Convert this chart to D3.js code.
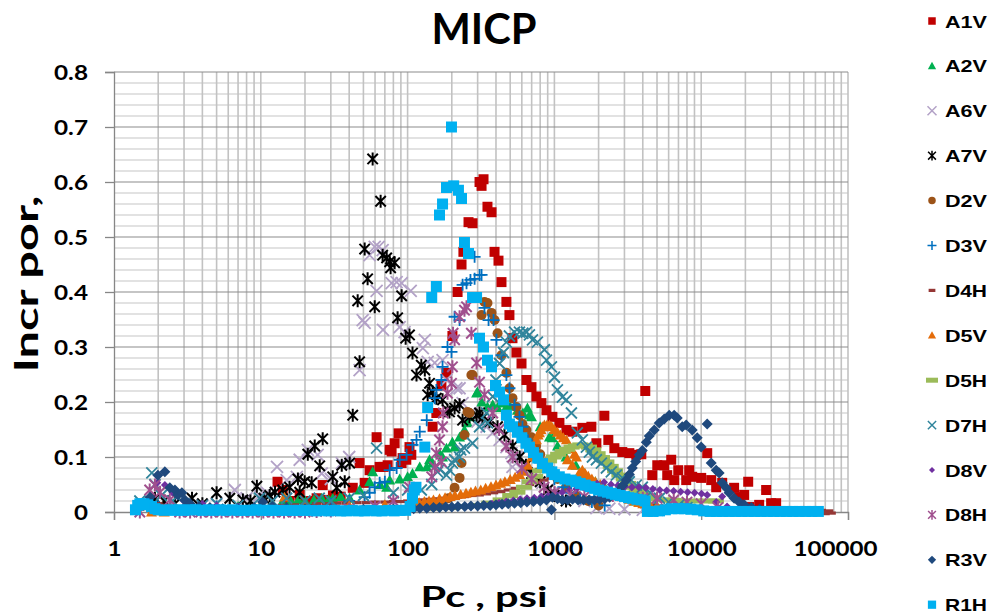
<!DOCTYPE html>
<html>
<head>
<meta charset="utf-8">
<script src="https://cdn.jsdelivr.net/npm/d3@7"></script>
<style>
  body { margin: 0; background: #fff; }
  text { font-weight: bold; fill: #000; }
</style>
</head>
<body>
<script>
// MICP incremental porosity vs capillary pressure, one array per sample: [Pc psi, incr por]
var pcTicks = [1, 10, 100, 1000, 10000, 100000];
var porTicks = [0, 0.1, 0.2, 0.3, 0.4, 0.5, 0.6, 0.7, 0.8];
var sampleNames = ['A1V', 'A2V', 'A6V', 'A7V', 'D2V', 'D3V', 'D4H', 'D5V', 'D5H', 'D7H', 'D8V', 'D8H', 'R3V', 'R1H'];

var a1v = [[13,0.055],[14.1,0.04],[15.7,0.02],[18.4,0.031],[20,0.018],[22,0.02],[24,0.025],[26.4,0.049],[28,0.022],[31,0.03],[35,0.028],
  [42.3,0.044],[47.1,0.089],[51,0.053],[55.1,0.076],[61.5,0.136],[64.5,0.082],[68.7,0.082],[73.1,0.085],[75.5,0.113],[77.8,0.11],
  [81.6,0.125],[86.9,0.143],[91,0.089],[92.5,0.098],[98,0.095],[103,0.118],[106,0.104],[148,0.155],[157,0.18],[170,0.23],[184,0.253],
  [202,0.32],[219,0.40],[233,0.45],[240,0.473],[260,0.527],[277,0.525],[309,0.60],[319,0.593],[329,0.605],[350,0.555],[373,0.545],
  [391,0.473],[416,0.457],[436,0.418],[471,0.382],[494,0.358],[518,0.316],[551,0.29],[597,0.27],[645,0.24],[698,0.227],[755,0.21],
  [816,0.198],[883,0.185],[969,0.173],[1082,0.162],[1207,0.149],[1326,0.146],[1550,0.153],[1786,0.155],[1932,0.125],[2189,0.175],
  [2330,0.131],[2561,0.116],[2902,0.109],[3238,0.107],[3612,0.104],[3908,0.105],[4159,0.22],[4641,0.067],[5021,0.085],[5600,0.085],
  [5870,0.067],[6249,0.095],[6549,0.058],[6978,0.076],[7905,0.058],[8283,0.076],[8686,0.064],[10000,0.062],[10990,0.107],[11700,0.058],
  [12650,0.045],[13900,0.053],[16760,0.044],[18130,0.027],[19620,0.031],[20900,0.055],[21230,0.009],[24830,0.013],[27700,0.04],
  [29950,0.016],[32400,0.016]];

var a2v = [[5,0.008],[7,0.01],[10,0.012],[12,0.015],[14,0.018],[16,0.02],[18,0.022],[20,0.02],[23,0.022],[26,0.025],[29,0.022],
  [30.9,0.025],[35,0.028],[40.3,0.025],[47.1,0.04],[55.1,0.055],[57.8,0.073],[65,0.05],[72,0.045],[75.5,0.058],[88.3,0.06],[100,0.064],
  [108,0.07],[121,0.082],[135,0.082],[141,0.095],[148,0.089],[165,0.107],[173,0.1],[184,0.116],[202,0.127],[209,0.118],[226,0.136],
  [244,0.149],[256,0.162],[272,0.173],[295,0.216],[299,0.218],[320,0.2],[350,0.191],[380,0.195],[410,0.19],[436,0.198],[471,0.191],
  [500,0.192],[560,0.185],[610,0.18],[655,0.189],[676,0.176],[698,0.173],[800,0.155],[925,0.136],[969,0.135],[1050,0.12],[1200,0.1],
  [1400,0.085],[1600,0.07],[1900,0.055],[2200,0.045],[2600,0.035],[3000,0.028],[3500,0.02],[4200,0.015],[5000,0.01]];

var a6v = [[1.9,0.02],[2.5,0.018],[3,0.015],[4,0.012],[5,0.015],[6.65,0.04],[8,0.025],[9.8,0.03],[11,0.035],[12.9,0.082],[15,0.058],
  [17.6,0.064],[18.4,0.095],[20.9,0.113],[24.4,0.104],[26,0.07],[30,0.06],[35.6,0.089],[40,0.1],[47.1,0.258],[49.4,0.349],[51,0.344],
  [55.1,0.467],[59.7,0.482],[61.5,0.402],[63.5,0.482],[67.6,0.476],[68,0.331],[77.8,0.416],[84.2,0.418],[88.3,0.336],[91.1,0.416],
  [95.4,0.327],[105,0.402],[127,0.298],[131,0.313],[137,0.273],[153,0.271],[173,0.276],[184,0.24],[215,0.225],[226,0.225],[237,0.198],
  [270,0.18],[300,0.165],[345,0.155],[379,0.144],[423,0.131],[471,0.118],[510,0.107],[518,0.082],[551,0.1],[606,0.076],[709,0.064],
  [828,0.053],[925,0.044],[1100,0.035],[1300,0.028],[1600,0.02],[1932,0.007],[2366,0.006],[3000,0.005],[4000,0.004],[5000,0.004]];

var a7v = [[1.9,0.025],[2.2,0.02],[2.6,0.015],[3.4,0.025],[4,0.015],[5,0.035],[6.15,0.025],[7.55,0.022],[8.5,0.02],[9.4,0.047],
  [10.5,0.025],[11.5,0.03],[12.5,0.036],[14.1,0.04],[15.7,0.045],[17.9,0.06],[18.4,0.036],[19.9,0.055],[20.9,0.105],[22.2,0.053],
  [23.3,0.12],[25.2,0.084],[26.4,0.133],[30.9,0.064],[32.9,0.044],[35.6,0.085],[37.3,0.055],[40.3,0.089],[42.3,0.176],[45.7,0.384],
  [47.1,0.273],[51,0.478],[53.4,0.424],[57.8,0.642],[59.7,0.373],[65.5,0.565],[67.6,0.467],[72,0.462],[75.5,0.455],[76.6,0.444],
  [81.6,0.453],[85.5,0.353],[91.1,0.393],[97,0.316],[103,0.322],[108,0.289],[115,0.249],[124,0.267],[131,0.258],[137,0.213],
  [141,0.234],[148,0.218],[157,0.207],[173,0.204],[187,0.185],[193,0.182],[209,0.189],[226,0.195],[237,0.167],[264,0.173],[295,0.176],
  [309,0.18],[324,0.171],[361,0.164],[410,0.155],[457,0.14],[520,0.12],[580,0.1],[640,0.085],[700,0.07],[800,0.055],[900,0.04],
  [1000,0.03],[1200,0.02]];

var d2v = [[150,0.01],[170,0.015],[190,0.025],[209,0.044],[226,0.062],[233,0.089],[244,0.14],[256,0.182],[264,0.18],[272,0.249],
  [277,0.249],[319,0.358],[334,0.382],[350,0.38],[373,0.362],[391,0.349],[410,0.325],[436,0.285],[471,0.253],[494,0.225],[518,0.207],
  [551,0.191],[578,0.176],[606,0.16],[645,0.149],[698,0.136],[750,0.12],[800,0.105],[870,0.09],[950,0.075],[1050,0.06],[1200,0.045],
  [1400,0.03],[1700,0.02],[2000,0.012]];

var d3v = [[2,0.01],[3,0.008],[5,0.01],[10,0.01],[20,0.012],[30,0.015],[40,0.02],[51,0.027],[55.1,0.035],[59.7,0.045],[64.5,0.053],
  [70,0.055],[75.5,0.076],[84.2,0.08],[88.3,0.095],[98.4,0.104],[108,0.122],[115,0.131],[121,0.146],[135,0.167],[153,0.207],[157,0.222],
  [170,0.24],[173,0.264],[187,0.3],[199,0.291],[209,0.355],[226,0.349],[237,0.413],[252,0.416],[268,0.422],[286,0.424],[286,0.464],
  [309,0.431],[319,0.431],[334,0.371],[356,0.349],[385,0.349],[403,0.313],[436,0.285],[471,0.249],[494,0.225],[535,0.195],[578,0.173],
  [606,0.155],[660,0.13],[720,0.11],[800,0.09],[900,0.075],[1000,0.06],[1150,0.045],[1300,0.035],[1500,0.025],[1800,0.018],[2200,0.012]];

var d4h = [[1.5,0.005],[1.7,0.01],[2,0.015],[2.3,0.012],[2.6,0.01],[3,0.008],[3.5,0.006],[4,0.006],[5,0.007],[6,0.008],[7,0.008],
  [8.5,0.009],[10,0.01],[12,0.011],[14,0.012],[17,0.013],[20,0.014],[24,0.015],[28,0.015],[33,0.016],[38,0.016],[45,0.017],[52,0.017],
  [60,0.018],[70,0.018],[80,0.019],[90,0.019],[100,0.02],[112,0.021],[125,0.022],[140,0.023],[157,0.024],[175,0.025],[196,0.026],
  [220,0.027],[245,0.028],[275,0.03],[308,0.031],[345,0.033],[386,0.035],[432,0.037],[484,0.04],[542,0.043],[607,0.046],[680,0.05],
  [760,0.054],[850,0.058],[950,0.062],[1060,0.065],[1190,0.062],[1330,0.058],[1490,0.052],[1670,0.047],[1870,0.042],[2090,0.037],
  [2340,0.033],[2620,0.029],[2930,0.025],[3280,0.021],[3670,0.018],[4110,0.015],[4600,0.013],[5150,0.011],[5770,0.01],[6460,0.009],
  [7230,0.008],[8100,0.007],[10000,0.006],[13000,0.005],[17000,0.004],[22000,0.003],[30000,0.003],[40000,0.002],[55000,0.002],
  [66000,0.003],[70000,-0.003],[74000,0.002],[77000,-0.002]];

var d5v = [[1.8,0],[2,0.002],[2.2,0],[3,0.003],[5,0.003],[10,0.005],[14.5,0.027],[20,0.01],[40,0.012],[70,0.013],[100,0.012],
  [110,0.015],[120,0.017],[130,0.019],[140,0.02],[150,0.022],[165,0.024],[180,0.026],[195,0.028],[210,0.03],[230,0.032],[250,0.034],
  [270,0.036],[290,0.038],[315,0.04],[340,0.043],[370,0.046],[400,0.049],[430,0.052],[460,0.055],[500,0.059],[540,0.063],[580,0.068],
  [620,0.074],[660,0.085],[700,0.1],[730,0.115],[755,0.131],[775,0.14],[791,0.144],[810,0.15],[828,0.155],[855,0.158],[890,0.158],
  [925,0.158],[960,0.155],[1000,0.15],[1050,0.145],[1100,0.14],[1150,0.135],[1207,0.131],[1226,0.095],[1260,0.115],[1326,0.085],
  [1370,0.105],[1412,0.1],[1479,0.071],[1550,0.076],[1620,0.07],[1700,0.065],[1800,0.06],[1900,0.055],[2050,0.05],[2200,0.045],
  [2400,0.04],[2600,0.035],[2800,0.031],[3000,0.027],[3250,0.023],[3500,0.02],[3750,0.017],[4000,0.015],[4500,0.012],[5000,0.01]];

var d5h = [[2,0.005],[5,0.005],[20,0.005],[60,0.006],[100,0.006],[150,0.007],[200,0.008],[250,0.01],[300,0.012],[360,0.016],
  [430,0.022],[500,0.03],[560,0.036],[620,0.045],[680,0.055],[740,0.065],[800,0.075],[860,0.085],[920,0.093],[990,0.1],[1060,0.105],
  [1140,0.11],[1220,0.114],[1310,0.118],[1400,0.12],[1500,0.122],[1610,0.121],[1720,0.118],[1840,0.113],[1970,0.106],[2110,0.099],
  [2260,0.091],[2420,0.083],[2590,0.075],[2770,0.067],[2970,0.06],[3180,0.052],[3400,0.045],[3640,0.039],[3900,0.033],[4300,0.028],
  [4800,0.024],[5500,0.022],[6500,0.021],[7500,0.02],[9000,0.02],[11000,0.02],[12600,0.02]];

var d7h = [[1.5,0.02],[1.81,0.071],[1.9,0.05],[2.1,0.03],[2.5,0.02],[3,0.015],[4,0.012],[5,0.015],[7,0.012],[9.8,0.025],[12,0.02],
  [15,0.025],[20,0.02],[25,0.025],[30,0.02],[40,0.025],[50,0.03],[61.5,0.116],[80,0.035],[100,0.04],[124,0.04],[146,0.05],[160,0.073],
  [165,0.078],[184,0.067],[193,0.076],[202,0.089],[209,0.095],[226,0.1],[230,0.113],[244,0.116],[277,0.125],[309,0.155],[345,0.18],
  [350,0.162],[380,0.21],[400,0.24],[423,0.27],[450,0.29],[471,0.309],[494,0.32],[535,0.327],[578,0.327],[610,0.325],[645,0.327],
  [676,0.322],[709,0.313],[766,0.309],[855,0.295],[883,0.276],[955,0.264],[1000,0.245],[1048,0.222],[1133,0.209],[1207,0.204],
  [1306,0.18],[1433,0.144],[1550,0.131],[1651,0.118],[1730,0.109],[1815,0.1],[1932,0.095],[2089,0.089],[2259,0.08],[2441,0.073],
  [2642,0.067],[2902,0.062],[3238,0.055],[3612,0.049],[3970,0.045],[4500,0.035],[5200,0.025],[6000,0.018],[7000,0.012],[8000,0.008]];

var d8v = [[1.97,0.053],[2.22,0.049],[2.5,0.035],[3,0.02],[4,0.015],[5,0.012],[7,0.01],[10,0.008],[15,0.006],[25,0.005],[50,0.005],
  [100,0.006],[150,0.007],[200,0.008],[250,0.01],[300,0.012],[335,0.013],[375,0.015],[420,0.017],[470,0.019],[525,0.021],[585,0.023],
  [650,0.025],[730,0.026],[815,0.028],[910,0.03],[1015,0.033],[1130,0.036],[1260,0.039],[1410,0.042],[1570,0.045],[1750,0.048],
  [1950,0.052],[2180,0.054],[2430,0.05],[2710,0.048],[3020,0.046],[3370,0.045],[3760,0.045],[4200,0.044],[4680,0.042],[5220,0.04],
  [5820,0.039],[6490,0.038],[7240,0.037],[8080,0.036],[9010,0.035],[10050,0.033],[10990,0.031],[12650,0.018],[13900,0.028],
  [15000,0.01],[20000,0.005],[30000,0.003]];

var d8h = [[1.5,0],[1.75,0.04],[1.9,0.049],[2.06,0.036],[2.4,0.022],[2.8,0],[3.3,0],[3.9,0],[4.6,0],[5.4,0],[6.4,0],[7.5,0],[8.8,0],
  [10.4,0],[12.2,0],[14.4,0],[17,0],[20,0],[24,0.001],[30,0.002],[40,0.005],[60,0.01],[80,0.02],[103,0.045],[146,0.064],[153,0.082],
  [157,0.107],[165,0.131],[170,0.091],[173,0.155],[175,0.18],[187,0.216],[199,0.234],[202,0.264],[204,0.325],[209,0.313],[226,0.355],
  [244,0.367],[252,0.373],[272,0.325],[295,0.271],[309,0.236],[334,0.213],[380,0.18],[420,0.15],[470,0.12],[520,0.1],[600,0.08],
  [700,0.06],[850,0.045],[1000,0.035],[1300,0.03],[1600,0.028],[2000,0.03],[2500,0.03],[3000,0.028],[4000,0.025],[5000,0.025],
  [6500,0.022],[8000,0.018],[10000,0.015],[13000,0.008]];

var r3v = [[1.76,0.027],[1.99,0.067],[2.22,0.073],[2.4,0.044],[2.6,0.04],[2.72,0.031],[2.9,0.035],[3.04,0.022],[3.3,0.015],[3.8,0.01],
  [4.5,0.008],[5.5,0.006],[7,0.006],[9,0.008],[10.3,0.018],[12,0.01],[15,0.008],[20,0.006],[30,0.005],[50,0.005],[80,0.005],[100,0.005],
  [110,0.006],[121,0.007],[135,0.007],[150,0.008],[165,0.008],[182,0.009],[200,0.009],[220,0.01],[245,0.01],[270,0.011],[300,0.011],
  [330,0.012],[365,0.012],[400,0.013],[440,0.014],[485,0.015],[535,0.016],[590,0.017],[650,0.018],[720,0.019],[800,0.02],[883,0.022],
  [955,0.004],[969,0.027],[1050,0.024],[1133,0.022],[1230,0.022],[1330,0.023],[1450,0.022],[1580,0.022],[1720,0.022],[1870,0.022],
  [2030,0.023],[2200,0.024],[2380,0.027],[2570,0.032],[2768,0.04],[2920,0.048],[3090,0.058],[3240,0.068],[3394,0.08],[3580,0.092],
  [3784,0.104],[3970,0.112],[4226,0.127],[4428,0.138],[4788,0.149],[5178,0.162],[5600,0.169],[6056,0.176],[6549,0.176],[6866,0.171],
  [7427,0.155],[7905,0.158],[8686,0.149],[9395,0.135],[10000,0.118],[10990,0.16],[11700,0.089],[12650,0.076],[13250,0.071],
  [13900,0.053],[14800,0.044],[15500,0.035],[16760,0.025],[18130,0.018],[19620,0.013],[22000,0.008],[25000,0.005]];

var r1h = [[1.4,0.004],[1.45,0.012],[1.5,0.015],[1.6,0.015],[1.7,0.013],[1.8,0.01],[1.9,0.006],[2,0.004],[2.2,0.003],[2.4,0.004],
  [2.6,0.003],[2.8,0.004],[3,0.003],[3.3,0.004],[3.6,0.004],[4,0.003],[4.4,0.004],[4.8,0.003],[5.3,0.004],[5.8,0.003],[6.4,0.004],
  [7,0.003],[7.7,0.003],[8.5,0.003],[9.3,0.004],[10.2,0.003],[11.2,0.003],[12.3,0.003],[13.5,0.003],[15,0.003],[16.5,0.003],[18,0.003],
  [20,0.003],[22,0.003],[24,0.002],[26.5,0.003],[29,0.002],[32,0.003],[35,0.002],[38.5,0.002],[42,0.003],[46,0.002],[51,0.002],
  [56,0.003],[61,0.002],[67,0.002],[74,0.003],[81,0.002],[89,0.003],[97,0.003],[104,0.01],[108,0.025],[111,0.04],[114,0.045],
  [131,0.118],[137,0.19],[146,0.39],[157,0.41],[165,0.54],[173,0.56],[184,0.59],[199,0.70],[206,0.593],[222,0.585],[233,0.57],
  [244,0.49],[260,0.47],[277,0.39],[295,0.39],[309,0.316],[329,0.30],[350,0.276],[373,0.264],[397,0.23],[423,0.218],[450,0.204],
  [471,0.176],[494,0.16],[518,0.155],[560,0.145],[600,0.135],[640,0.125],[676,0.118],[720,0.108],[770,0.098],[830,0.088],[900,0.08],
  [960,0.073],[1000,0.068],[1080,0.064],[1180,0.06],[1300,0.058],[1400,0.055],[1500,0.052],[1620,0.049],[1750,0.046],[1880,0.043],
  [2000,0.04],[2150,0.038],[2300,0.036],[2450,0.034],[2600,0.032],[2800,0.03],[3000,0.028],[3200,0.026],[3400,0.025],[3650,0.023],
  [3900,0.022],[4150,0.02],[4300,0.001],[4700,0.001],[5200,0.002],[5700,0.004],[6300,0.006],[7000,0.006],[7700,0.006],[8500,0.005],
  [9400,0.004],[10400,0.002],[11500,0.001],[12700,0.001],[14000,0.001],[15500,0.001],[17100,0.001],[18900,0.001],[20900,0.001],
  [23100,0.001],[25500,0.001],[28200,0.001],[31200,0.001],[34500,0.001],[38100,0.001],[42100,0.001],[46500,0.001],[51400,0.001],
  [56800,0.001],[62800,0.001]];

var sampleData = [a1v, a2v, a6v, a7v, d2v, d3v, d4h, d5v, d5h, d7h, d8v, d8h, r3v, r1h];

// marker look per sample, same order as sampleNames
var markerKind = ['square', 'triangle', 'x', 'star', 'circle', 'plus', 'dash', 'triangle', 'bar', 'x', 'diamond', 'star', 'diamond', 'square'];
var markerSize = [10, 11, 12, 13, 10, 12, 9, 11, 16, 11, 8, 13, 11, 11];
var markerColor = ['#C00000', '#00B050', '#B3A2C7', '#000000', '#9C5318', '#0070C0', '#953735', '#E46C0A', '#9BBB59', '#31859C',
  '#7030A0', '#A0508E', '#1F497D', '#00B0F0'];

var width = 1000, height = 616;

var svg = d3.select('body').append('svg')
  .attr('width', width)
  .attr('height', height);

var x = d3.scaleLog().domain([1, 100000]).range([114, 848]);
var y = d3.scaleLinear().domain([0, 0.8]).range([512, 72]);

// grid
var grid = svg.append('g');
var minorY = d3.range(1, 40).map(function(i) { return i * 0.02; }).filter(function(v, i) { return (i + 1) % 5 != 0; });
grid.selectAll('.hminor').data(minorY).enter().append('line')
  .attr('x1', 114).attr('x2', 848)
  .attr('y1', function(d) { return y(d); }).attr('y2', function(d) { return y(d); })
  .style('stroke', '#c6c6c6').style('stroke-width', 1.2);

var minorX = [];
[1, 10, 100, 1000, 10000].forEach(function(dec) {
  for (var k = 2; k <= 10; k++) { minorX.push(dec * k); }
});
grid.selectAll('.vline').data(minorX).enter().append('line')
  .attr('x1', function(d) { return x(d); }).attr('x2', function(d) { return x(d); })
  .attr('y1', 72).attr('y2', 512)
  .style('stroke', '#c2c2c2').style('stroke-width', 1.6);

grid.selectAll('.hmajor').data(porTicks.slice(1)).enter().append('line')
  .attr('x1', 114).attr('x2', 848)
  .attr('y1', function(d) { return y(d); }).attr('y2', function(d) { return y(d); })
  .style('stroke', '#8c8c8c').style('stroke-width', 1.2);

// axes
function labelWidth(s) {
  var w = 0;
  for (var i = 0; i < s.length; i++) { w += s[i] == '.' ? 6 : 14; }
  return w;
}

var yAxis = svg.append('g')
  .attr('transform', 'translate(114,0)')
  .call(d3.axisLeft(y).tickValues(porTicks).tickSize(9).tickFormat(function(d) { return d == 0 ? '0' : d.toFixed(1); }));
var xAxis = svg.append('g')
  .attr('transform', 'translate(0,512)')
  .call(d3.axisBottom(x).tickValues(pcTicks).tickSize(8).tickFormat(d3.format('d')));

[yAxis, xAxis].forEach(function(ax) {
  ax.select('.domain').style('stroke', '#868686').style('stroke-width', 1.3);
  ax.selectAll('.tick line').style('stroke', '#868686').style('stroke-width', 1.3);
  ax.selectAll('.tick text')
    .style('font-family', 'Lato, "Open Sans", sans-serif')
    .style('font-size', '21px')
    .style('font-weight', 'bold')
    .style('fill', '#000')
    .attr('lengthAdjust', 'spacingAndGlyphs')
    .attr('textLength', function() { return labelWidth(this.textContent); });
});
yAxis.selectAll('.tick text').attr('x', -26).attr('dy', '0.36em');
xAxis.selectAll('.tick text').attr('y', 29).attr('dy', '0.71em')
  .attr('x', function(d) { return d == 100000 ? -13 : 0; });

// markers
function markerPath(kind, s) {
  var a = s / 2;
  if (kind == 'square') return 'M' + (-a) + ',' + (-a) + 'h' + s + 'v' + s + 'h' + (-s) + 'Z';
  if (kind == 'triangle') return 'M0,' + (-a) + 'L' + a + ',' + (a * 0.8) + 'L' + (-a) + ',' + (a * 0.8) + 'Z';
  if (kind == 'diamond') return 'M0,' + (-a) + 'L' + a + ',0L0,' + a + 'L' + (-a) + ',0Z';
  if (kind == 'circle') return 'M' + (-a) + ',0a' + a + ',' + a + ' 0 1,0 ' + s + ',0a' + a + ',' + a + ' 0 1,0 ' + (-s) + ',0Z';
  if (kind == 'dash') return 'M' + (-a) + ',-1.6h' + s + 'v3.2h' + (-s) + 'Z';
  if (kind == 'bar') return 'M' + (-a) + ',-2.5h' + s + 'v5h' + (-s) + 'Z';
  if (kind == 'plus') return 'M' + (-a) + ',0H' + a + 'M0,' + (-a) + 'V' + a;
  if (kind == 'x') return 'M' + (-a) + ',' + (-a) + 'L' + a + ',' + a + 'M' + a + ',' + (-a) + 'L' + (-a) + ',' + a;
  // star: x plus a vertical stroke
  var b = a * 0.8;
  return 'M' + (-b) + ',' + (-b) + 'L' + b + ',' + b + 'M' + b + ',' + (-b) + 'L' + (-b) + ',' + b + 'M0,' + (-a) + 'V' + a;
}

function isLine(kind) { return kind == 'plus' || kind == 'x' || kind == 'star'; }

var plot = svg.append('g');
sampleNames.forEach(function(name, i) {
  var kind = markerKind[i];
  plot.append('g')
    .attr('class', 'series-' + name)
    .selectAll('path')
    .data(sampleData[i])
    .enter()
    .append('path')
    .attr('transform', function(d) { return 'translate(' + x(d[0]) + ',' + y(d[1]) + ')'; })
    .attr('d', markerPath(kind, markerSize[i]))
    .style('fill', isLine(kind) ? 'none' : markerColor[i])
    .style('stroke', isLine(kind) ? markerColor[i] : 'none')
    .style('stroke-width', kind == 'star' ? 2 : (isLine(kind) ? 1.8 : 0));
});

// legend
var legend = svg.append('g').selectAll('g')
  .data(sampleNames)
  .enter()
  .append('g')
  .attr('transform', function(d, i) { return 'translate(932,' + (21 + i * 44.9) + ')'; });

legend.append('path')
  .attr('d', function(d, i) { return markerPath(markerKind[i], markerSize[i] * 0.75); })
  .style('fill', function(d, i) { return isLine(markerKind[i]) ? 'none' : markerColor[i]; })
  .style('stroke', function(d, i) { return isLine(markerKind[i]) ? markerColor[i] : 'none'; })
  .style('stroke-width', 1.5);

legend.append('text')
  .attr('x', 13)
  .attr('y', 6.5)
  .attr('textLength', 42)
  .attr('lengthAdjust', 'spacingAndGlyphs')
  .style('font-family', '"Liberation Sans", Arial, sans-serif')
  .style('font-size', '17px')
  .text(function(d) { return d; });

// titles
svg.append('text')
  .attr('x', 484).attr('y', 44)
  .attr('text-anchor', 'middle')
  .attr('textLength', 105).attr('lengthAdjust', 'spacingAndGlyphs')
  .style('font-family', 'Lato, sans-serif').style('font-size', '42px')
  .text('MICP');

svg.append('text')
  .attr('x', 484).attr('y', 607)
  .attr('text-anchor', 'middle')
  .attr('textLength', 127).attr('lengthAdjust', 'spacingAndGlyphs')
  .style('font-family', 'Lato, sans-serif').style('font-size', '28px')
  .text('Pc , psi');

svg.append('text')
  .attr('transform', 'translate(38,284) rotate(-90)')
  .attr('text-anchor', 'middle')
  .attr('textLength', 177).attr('lengthAdjust', 'spacingAndGlyphs')
  .style('font-family', 'Lato, sans-serif').style('font-size', '32px')
  .text('Incr por,');
</script>
</body>
</html>
